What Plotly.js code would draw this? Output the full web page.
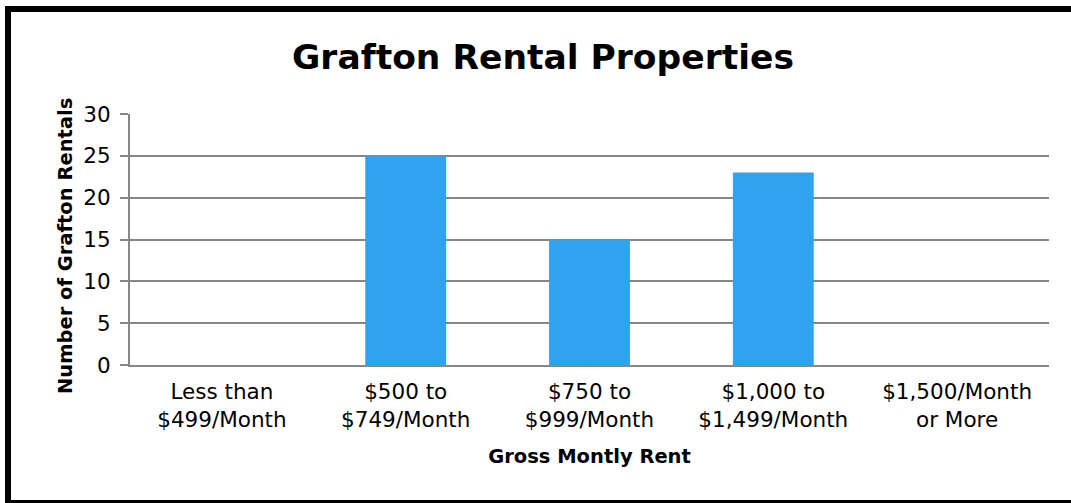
<!DOCTYPE html>
<html>
<head>
<meta charset="utf-8">
<script src="https://cdn.plot.ly/plotly-3.0.1.min.js"></script>
<style>
  html, body { margin: 0; padding: 0; background: #fff; overflow: hidden; }
  #wrap { position: relative; width: 1071px; height: 503px; }
  #chart { position: absolute; left: 0; top: 0; width: 1071px; height: 503px; }
  #frame { position: absolute; left: 5px; top: 6px; width: 1100px; height: 488px;
           border-left: 6px solid #000; border-top: 6px solid #000; border-bottom: 3px solid #000;
           pointer-events: none; }
</style>
</head>
<body>
<div id="wrap">
  <div id="chart"></div>
  <div id="frame"></div>
</div>
<script>
const categories = [
  "Less than<br>$499/Month",
  "$500 to<br>$749/Month",
  "$750 to<br>$999/Month",
  "$1,000 to<br>$1,499/Month",
  "$1,500/Month<br>or More"
];
const rentals = [0, 25, 15, 23, 0];
const yTicks = [0, 5, 10, 15, 20, 25, 30];

const FONT = "'DejaVu Sans', sans-serif";
const gridColor = "#868686";

Plotly.newPlot("chart", [{
  type: "bar",
  x: categories,
  y: rentals,
  marker: { color: "#31A3EE" },
  hoverinfo: "x+y"
}], {
  width: 1071,
  height: 503,
  margin: { l: 130, r: 22, t: 114, b: 138 },
  paper_bgcolor: "#fff",
  plot_bgcolor: "#fff",
  bargap: 0.56,
  showlegend: false,
  font: { family: FONT, color: "#000" },
  title: {
    text: "<b>Grafton Rental Properties</b>",
    font: { family: FONT, size: 34.5, color: "#000" },
    x: 0.507, xanchor: "center",
    y: 1 - 57 / 503, yanchor: "middle", yref: "container"
  },
  xaxis: {
    type: "category",
    tickfont: { family: FONT, size: 21.5, color: "#000" },
    ticklabelstandoff: 6,
    showline: true, linecolor: gridColor, linewidth: 2,
    ticks: "", showgrid: false,
    title: { text: "<b>Gross Montly Rent</b>", font: { family: FONT, size: 19.5, color: "#000" }, standoff: 19 }
  },
  yaxis: {
    range: [0, 30],
    tickvals: yTicks,
    ticktext: yTicks.map(String),
    tickfont: { family: FONT, size: 21.5, color: "#000" },
    ticklabelstandoff: 5,
    showline: true, linecolor: gridColor, linewidth: 2,
    ticks: "outside", ticklen: 8, tickcolor: gridColor, tickwidth: 2,
    showgrid: true, gridcolor: gridColor, gridwidth: 2,
    zeroline: false
  },
  annotations: [{
    text: "<b>Number of Grafton Rentals</b>",
    font: { family: FONT, size: 19.5, color: "#000" },
    textangle: -90,
    xref: "paper", yref: "paper",
    x: (65 - 130) / 919, xanchor: "center",
    y: (365 - 246) / 251, yanchor: "middle",
    showarrow: false
  }]
}, { displayModeBar: false, staticPlot: true });
</script>
</body>
</html>
